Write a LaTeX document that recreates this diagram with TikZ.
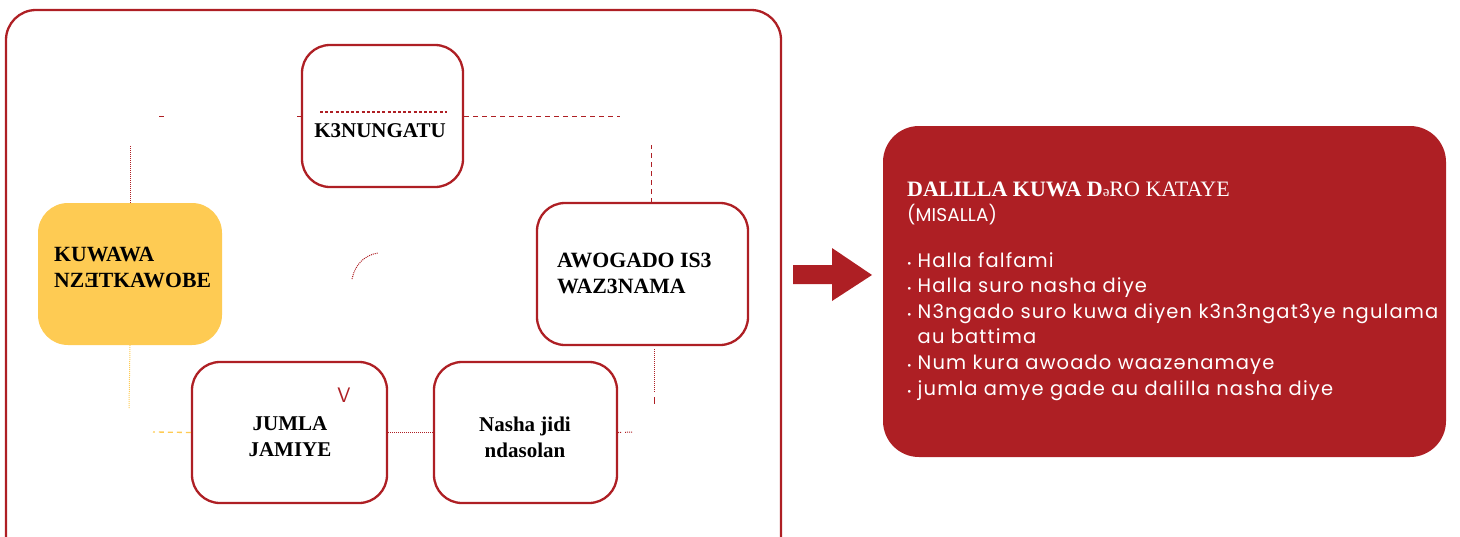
\documentclass[tikz,border=0pt]{standalone}
\usepackage{fontspec}
\setmainfont{Liberation Serif}
\newfontfamily\pop{Poppins}
\definecolor{bred}{RGB}{174,31,36}
\definecolor{byel}{RGB}{254,203,83}
\tikzset{
  box/.style={draw=bred, line width=2.3pt, rounded corners=28pt, fill=white, inner sep=0pt},
  lbl/.style={font=\fontsize{21}{26}\selectfont\bfseries, align=left, inner sep=0pt, text=black},
  rdash/.style={draw=bred, line width=1pt, dash pattern=on 5pt off 4pt},
  rdot/.style={draw=bred, line width=1pt, dash pattern=on 1pt off 1pt},
  ydot/.style={draw=byel, line width=1pt, dash pattern=on 1pt off 1pt},
  ydash/.style={draw=byel, line width=1.3pt, dash pattern=on 5pt off 4pt},
}
\newcommand{\bdot}{{\fontsize{11}{11}\selectfont•}}
\begin{document}
\begin{tikzpicture}[x=1pt,y=-1pt]
\useasboundingbox (0,0) rectangle (1460,536);
% outer frame
\draw[bred, line width=2.3pt, rounded corners=30pt] (6,10) rectangle (781,566);
% boxes
\node[box, minimum width=161pt, minimum height=142pt] (k3) at (382.5,116) {};
\node[fill=byel, rounded corners=30pt, minimum width=184pt, minimum height=142pt, inner sep=0pt] (kw) at (130,274) {};
\node[box, minimum width=211pt, minimum height=142pt] (aw) at (642.5,274) {};
\node[box, minimum width=195pt, minimum height=141pt] (ju) at (289.5,432.5) {};
\node[box, minimum width=183pt, minimum height=141pt] (na) at (525.5,432.5) {};
% labels
\node[lbl] (k3t) at (380,131) {K3NUNGATU};
\node[lbl, anchor=west, font=\fontsize{21.7}{26}\selectfont\bfseries] (kwt) at (54,267) {KUWAWA\\NZƎTKAWOBE};
\node[lbl, anchor=west, font=\fontsize{21.8}{26}\selectfont\bfseries] (awt) at (557,273) {AWOGADO IS3\\WAZ3NAMA};
\node[lbl, align=center] (jut) at (290,437) {JUMLA\\JAMIYE};
\node[lbl, align=center] (nat) at (525,437) {Nasha jidi\\ndasolan};
\node[text=bred, font=\fontsize{21}{21}\selectfont\sffamily, inner sep=0pt] (vv) at (344,395) {V};
% connector fragments
\coordinate (t1a) at (320,112); \coordinate (t1b) at (447,112);
\draw[bred, line width=2pt, dash pattern=on 3pt off 2.2pt] (t1a) -- (t1b);
\coordinate (c1) at (620,116);
\draw[rdash] (k3.east) -- (c1);
\coordinate (c2a) at (159,116); \coordinate (c2b) at (164,116);
\draw[bred, line width=1pt] (c2a) -- (c2b);
\coordinate (c3) at (297,116);
\draw[bred, line width=1pt] (k3.west) -- (c3);
\coordinate (c4) at (130,145);
\draw[rdot] (kw.north) -- (c4);
\coordinate (c5a) at (651,145); \coordinate (c5b) at (651,203);
\draw[rdash] (c5b) -- (c5a);
\coordinate (c6) at (129,408);
\draw[ydot] (kw.south) -- (c6);
\coordinate (c7) at (153,432);
\draw[ydash] (ju.west) -- (c7);
\draw[rdot] (ju.east) -- (na.west);
\coordinate (c8) at (633,432);
\draw[bred, line width=1pt, dash pattern=on 1pt off 1pt on 1pt off 4pt on 1pt off 1pt on 1pt off 1pt] (na.east) -- (c8);
\coordinate (c9a) at (654,349); \coordinate (c9b) at (654,392); \coordinate (c9c) at (654,397); \coordinate (c9d) at (654,404);
\draw[rdot] (c9a) -- (c9b);
\draw[bred, line width=1pt] (c9c) -- (c9d);
\coordinate (a1) at (352,279); \coordinate (a2) at (378,253);
\draw[rdot] (a1) .. controls (355,264) and (365,255) .. (a2);
% big arrow
\fill[bred] (793,265) -- (832,265) -- (832,248) -- (872,275) -- (832,301) -- (832,284) -- (793,284) -- cycle;
% right box
\node[fill=bred, rounded corners=36pt, minimum width=563pt, minimum height=331pt, inner sep=0pt] (rb) at (1164.5,291.5) {};
\node[anchor=base west, inner sep=0pt, text=white, font=\fontsize{22}{22}\selectfont] (rt) at (907,196) {\textbf{DALILLA KUWA D}{\fontsize{15}{15}\selectfont ə}RO KATAYE};
\node[anchor=base west, inner sep=0pt, text=white, font=\pop\fontsize{18.5}{22}\selectfont\addfontfeatures{LetterSpace=0.5}] (rm) at (907,221) {(MISALLA)};
\node[anchor=north west, inner sep=0pt, text=white, font=\pop\fontsize{19.5}{25.6}\selectfont\addfontfeatures{LetterSpace=5.8}, align=left] (rl) at (907,249) {%
\begin{tabular}{@{}l@{\hspace{6pt}}l@{}}
\bdot & Halla falfami\\
\bdot & Halla suro nasha diye\\
\bdot & N3ngado suro kuwa diyen k3n3ngat3ye ngulama\\
 & au battima\\
\bdot & Num kura awoado waazənamaye\\
\bdot & jumla amye gade au dalilla nasha diye
\end{tabular}};
\end{tikzpicture}
\end{document}
